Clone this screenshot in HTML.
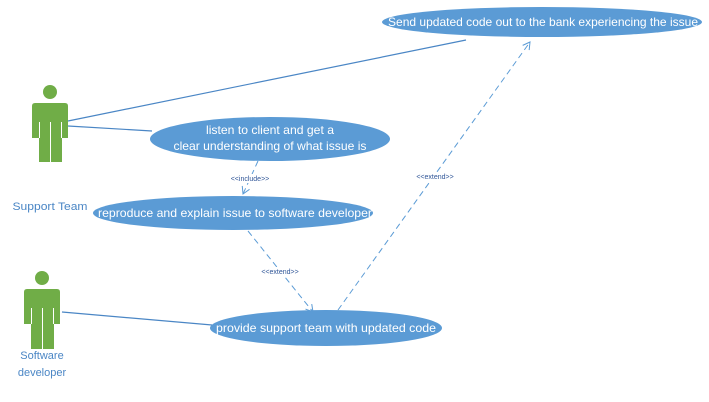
<!DOCTYPE html>
<html><head><meta charset="utf-8"><style>
html,body{margin:0;padding:0;background:#fff;}
svg{display:block;font-family:"Liberation Sans",sans-serif;}
</style></head><body>
<svg width="709" height="402" viewBox="0 0 709 402" xmlns="http://www.w3.org/2000/svg">
<defs>
<marker id="a" markerWidth="10" markerHeight="10" refX="8" refY="5" orient="auto" markerUnits="userSpaceOnUse">
<path d="M1,1 L8,5 L1,9" fill="none" stroke="#5b9bd5" stroke-width="1"/>
</marker>
</defs>
<g stroke="#4a86c5" stroke-width="1.2">
<line x1="68" y1="121" x2="466" y2="40"/>
<line x1="68" y1="126" x2="152" y2="131"/>
<line x1="62" y1="312" x2="212" y2="325"/>
</g>
<g stroke="#5b9bd5" stroke-width="1" stroke-dasharray="6,4" fill="none">
<line x1="258" y1="161" x2="243" y2="194" marker-end="url(#a)"/>
<line x1="248" y1="231" x2="313" y2="312" marker-end="url(#a)"/>
<line x1="338" y1="310" x2="530" y2="42" marker-end="url(#a)"/>
</g>
<g fill="#fff">
<rect x="226" y="174" width="48" height="9"/>
<rect x="257" y="267" width="46" height="9"/>
<rect x="412" y="172" width="46" height="9"/>
</g>
<g fill="#70ad47">
<circle cx="50" cy="92" r="7"/>
<path d="M32,106 Q32,103 35,103 L65,103 Q68,103 68,106 L68,138 L62,138 L62,162 L39,162 L39,138 L32,138 Z"/>
<circle cx="42" cy="278" r="7"/>
<path d="M24,292 Q24,289 27,289 L57,289 Q60,289 60,292 L60,324 L54,324 L54,349 L31,349 L31,324 L24,324 Z"/>
</g>
<g stroke="#fff" stroke-width="1">
<line x1="50.5" y1="122" x2="50.5" y2="162"/>
<line x1="39.5" y1="122" x2="39.5" y2="138"/>
<line x1="61.5" y1="122" x2="61.5" y2="138"/>
<line x1="42.5" y1="308" x2="42.5" y2="349"/>
<line x1="31.5" y1="308" x2="31.5" y2="324"/>
<line x1="53.5" y1="308" x2="53.5" y2="324"/>
</g>
<g fill="#5b9bd5">
<ellipse cx="542" cy="22" rx="160" ry="15"/>
<ellipse cx="270" cy="139" rx="120" ry="22"/>
<ellipse cx="233" cy="213" rx="140" ry="17"/>
<ellipse cx="326" cy="328" rx="116" ry="18"/>
</g>
<g fill="#fff" font-size="12" text-anchor="middle" lengthAdjust="spacingAndGlyphs">
<text x="543" y="26" textLength="310" lengthAdjust="spacingAndGlyphs">Send updated code out to the bank experiencing the issue</text>
<text x="270" y="134" textLength="128" lengthAdjust="spacingAndGlyphs">listen to client and get a</text>
<text x="270" y="150" textLength="193" lengthAdjust="spacingAndGlyphs">clear understanding of what issue is</text>
<text x="235" y="217" textLength="274" lengthAdjust="spacingAndGlyphs">reproduce and explain issue to software developer</text>
<text x="326" y="332" textLength="220" lengthAdjust="spacingAndGlyphs">provide support team with updated code</text>
</g>
<g fill="#2f5597" font-size="7" text-anchor="middle">
<text x="250" y="181">&lt;&lt;include&gt;&gt;</text>
<text x="280" y="274">&lt;&lt;extend&gt;&gt;</text>
<text x="435" y="179">&lt;&lt;extend&gt;&gt;</text>
</g>
<g fill="#4a86c5" font-size="11" text-anchor="middle">
<text x="50" y="210" textLength="75" lengthAdjust="spacingAndGlyphs">Support Team</text>
<text x="42" y="359">Software</text>
<text x="42" y="376">developer</text>
</g>
</svg>
</body></html>
